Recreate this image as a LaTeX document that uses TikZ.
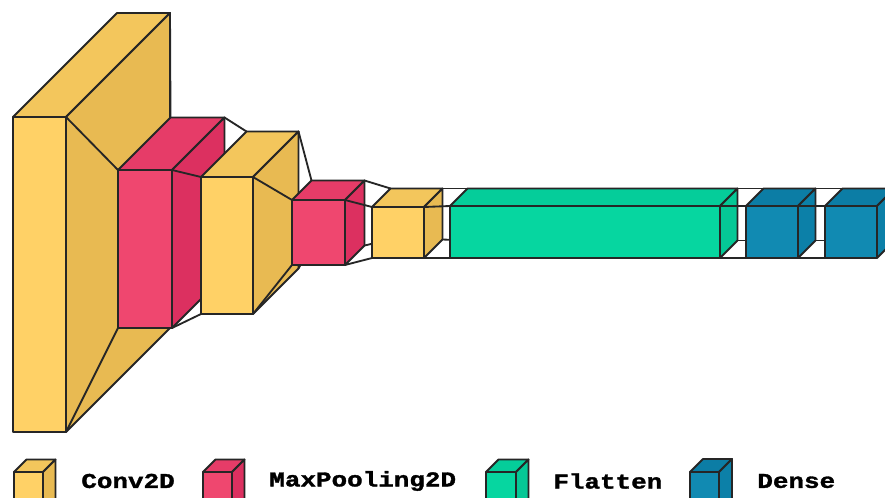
\documentclass[tikz,border=0pt]{standalone}
\usepackage{fontspec}
\usepackage{xcolor}
\usetikzlibrary{calc}
\newfontfamily\legendfont[FakeStretch=1.23,BoldFeatures={FakeBold=1.6}]{Liberation Mono}
\definecolor{convcol}{HTML}{FFD166}
\definecolor{convcoltop}{HTML}{F3C65C}
\definecolor{convcolside}{HTML}{E8BA52}
\definecolor{poolcol}{HTML}{EF476F}
\definecolor{poolcoltop}{HTML}{E63C68}
\definecolor{poolcolside}{HTML}{DC3060}
\definecolor{flatcol}{HTML}{06D6A0}
\definecolor{flatcoltop}{HTML}{05CD9A}
\definecolor{flatcolside}{HTML}{05C896}
\definecolor{densecol}{HTML}{118AB2}
\definecolor{densecoltop}{HTML}{0C7DA5}
\definecolor{densecolside}{HTML}{0C80A8}
\tikzset{
  boxedge/.style={draw=black!85, line width=1.05pt, line join=round},
  funnelline/.style={draw=black!85, line width=1.05pt, line cap=round},
  legendtext/.style={anchor=west, inner sep=0pt, font=\legendfont\bfseries\fontsize{12}{12}\selectfont},
}
% name, left, top, width, height, depth
\newcommand{\layercoords}[6]{%
  \coordinate (#1ftl) at (#2, #3);
  \coordinate (#1ftr) at (#2+#4, #3);
  \coordinate (#1fbl) at (#2, #3+#5);
  \coordinate (#1fbr) at (#2+#4, #3+#5);
  \coordinate (#1btl) at (#2+#6, #3-#6);
  \coordinate (#1btr) at (#2+#4+#6, #3-#6);
  \coordinate (#1bbr) at (#2+#4+#6, #3+#5-#6);
  \coordinate (#1bbl) at (#2+#6, #3+#5-#6);
}
% name, colour
\newcommand{\layerbox}[2]{%
  \draw[boxedge, fill=#2top] (#1ftl) -- (#1btl) -- (#1btr) -- (#1ftr) -- cycle;
  \draw[boxedge, fill=#2side] (#1ftr) -- (#1btr) -- (#1bbr) -- (#1fbr) -- cycle;
  \draw[boxedge, fill=#2] (#1ftl) rectangle (#1fbr);
}
\newcommand{\funnel}[2]{%
  \draw[funnelline] (#1ftr) -- (#2ftl);
  \draw[funnelline] (#1btr) -- (#2btl);
  \draw[funnelline] (#1fbr) -- (#2fbl);
  \draw[funnelline] (#1bbr) -- (#2bbl);
}

\begin{document}
\begin{tikzpicture}[x=0.02cm,y=-0.02cm]
  \clip (0,0) rectangle (885,497);
  \layercoords{convA}{13}{117}{53}{315}{104}
  \layercoords{poolA}{118}{170}{54}{158}{52.5}
  \layercoords{convB}{201}{177}{52}{137}{45.5}
  \layercoords{poolB}{292}{200}{53}{65}{19.5}
  \layercoords{convC}{372}{207}{52}{51}{18.5}
  \layercoords{flatA}{450}{206}{270}{52}{17.5}
  \layercoords{denseA}{746}{206}{52}{52}{17.5}
  \layercoords{denseB}{825}{206}{52}{52}{17.5}
  % layers
  \layerbox{convA}{convcol}
  \funnel{convA}{poolA}
  \layerbox{poolA}{poolcol}
  \funnel{poolA}{convB}
  \layerbox{convB}{convcol}
  \funnel{convB}{poolB}
  \layerbox{poolB}{poolcol}
  \funnel{poolB}{convC}
  \layerbox{convC}{convcol}
  \funnel{convC}{flatA}
  \layerbox{flatA}{flatcol}
  \funnel{flatA}{denseA}
  \layerbox{denseA}{densecol}
  \funnel{denseA}{denseB}
  \layerbox{denseB}{densecol}
  % legend
  \layercoords{keyconv}{14}{472}{29}{40}{12.5}
  \layerbox{keyconv}{convcol}
  \node[legendtext] (labelconv) at (81,481) {Conv2D};
  \layercoords{keypool}{203}{472}{29}{40}{12.5}
  \layerbox{keypool}{poolcol}
  \node[legendtext] (labelpool) at (269,481) {MaxPooling2D};
  \layercoords{keyflat}{486}{472}{30}{40}{12.5}
  \layerbox{keyflat}{flatcol}
  \node[legendtext] (labelflat) at (553,481) {Flatten};
  \layercoords{keydense}{690}{472}{29}{40}{13}
  \layerbox{keydense}{densecol}
  \node[legendtext] (labeldense) at (757,481) {Dense};
\end{tikzpicture}
\end{document}
